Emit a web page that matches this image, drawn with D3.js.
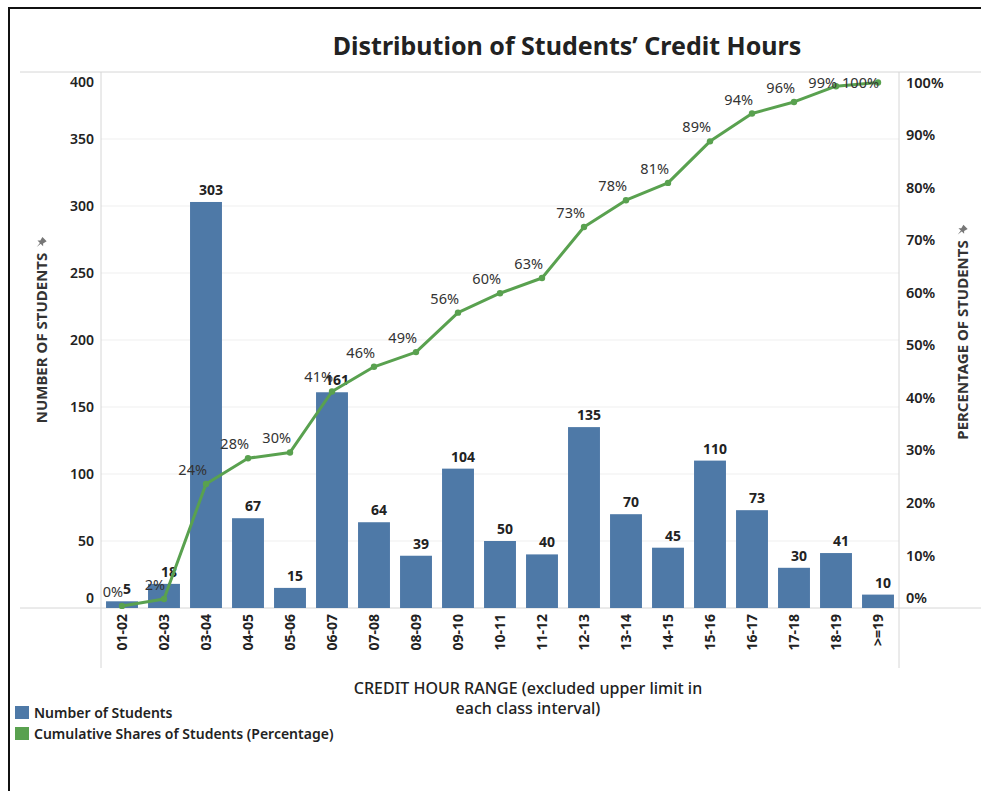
<!DOCTYPE html>
<html>
<head>
<meta charset="utf-8">
<script src="https://cdn.jsdelivr.net/npm/d3@7"></script>
<style>
  body { margin: 0; background: #fff; }
  svg { display: block; font-family: "Noto Sans", "Open Sans", sans-serif; }
</style>
</head>
<body>
<svg width="981" height="791"></svg>
<script>
// Categories and values
const ranges = ["01-02", "02-03", "03-04", "04-05", "05-06", "06-07", "07-08", "08-09", "09-10",
  "10-11", "11-12", "12-13", "13-14", "14-15", "15-16", "16-17", "17-18", "18-19", ">=19"];
const students = [5, 18, 303, 67, 15, 161, 64, 39, 104, 50, 40, 135, 70, 45, 110, 73, 30, 41, 10];
const cumShare = [0.004, 0.017, 0.236, 0.285, 0.296, 0.412, 0.459, 0.487, 0.562, 0.599, 0.628,
  0.725, 0.776, 0.809, 0.888, 0.941, 0.963, 0.993, 1.0];
const countTicks = [0, 50, 100, 150, 200, 250, 300, 350, 400];
const shareTicks = [0, 0.1, 0.2, 0.3, 0.4, 0.5, 0.6, 0.7, 0.8, 0.9, 1.0];

const blue = "#4e79a7";
const green = "#59a14f";

const svg = d3.select("svg");

// frame
svg.append("rect")
  .attr("x", 9).attr("y", 8)
  .attr("width", 990).attr("height", 800)
  .attr("fill", "none").attr("stroke", "#111").attr("stroke-width", 2);

const plotLeft = 101, plotRight = 899, plotTop = 72, base = 608;

const x = d3.scaleBand().domain(ranges).range([plotLeft, plotRight]).paddingInner(0.24).paddingOuter(0.12);
const y = d3.scaleLinear().domain([0, 400]).range([base, plotTop]);
const y2 = d3.scaleLinear().domain([0, 1.02]).range([base, plotTop]);

// title
svg.append("text")
  .attr("x", 567).attr("y", 55)
  .attr("text-anchor", "middle")
  .attr("font-size", "25px").attr("font-weight", 700).attr("fill", "#222")
  .text("Distribution of Students\u2019 Credit Hours");

// gridlines
svg.append("g")
  .selectAll("line")
  .data(countTicks.filter((d) => d > 0 && d < 400))
  .enter()
  .append("line")
  .attr("x1", plotLeft).attr("x2", plotRight)
  .attr("y1", (d) => y(d)).attr("y2", (d) => y(d))
  .attr("stroke", "#efefef");

// frame lines of the plot
svg.append("line").attr("x1", 20).attr("x2", 981).attr("y1", plotTop).attr("y2", plotTop).attr("stroke", "#d6d6d6");
svg.append("line").attr("x1", 20).attr("x2", 981).attr("y1", base).attr("y2", base).attr("stroke", "#d6d6d6");
svg.append("line").attr("x1", plotLeft).attr("x2", plotLeft).attr("y1", plotTop).attr("y2", 668).attr("stroke", "#d6d6d6");
svg.append("line").attr("x1", plotRight).attr("x2", plotRight).attr("y1", plotTop).attr("y2", 668).attr("stroke", "#d6d6d6");

// left axis labels
svg.append("g")
  .selectAll("text")
  .data(countTicks)
  .enter()
  .append("text")
  .attr("x", 94)
  .attr("y", (d) => Math.min(Math.max(y(d), 82), 598))
  .attr("dy", "0.35em")
  .attr("text-anchor", "end")
  .attr("font-size", "14px").attr("font-weight", 600).attr("fill", "#222")
  .text((d) => d);

// right axis labels
svg.append("g")
  .selectAll("text")
  .data(shareTicks)
  .enter()
  .append("text")
  .attr("x", 906)
  .attr("y", (d) => Math.min(Math.max(y2(d), 82), 598))
  .attr("dy", "0.35em")
  .attr("font-size", "14.5px").attr("font-weight", 600).attr("fill", "#222")
  .text((d) => d3.format(".0%")(d));

// bars
svg.append("g")
  .selectAll("rect")
  .data(students)
  .enter()
  .append("rect")
  .attr("x", (d, i) => x(ranges[i]))
  .attr("y", (d) => y(d))
  .attr("width", x.bandwidth())
  .attr("height", (d) => base - y(d))
  .attr("fill", blue);

// bar labels
svg.append("g")
  .selectAll("text")
  .data(students)
  .enter()
  .append("text")
  .attr("x", (d, i) => x(ranges[i]) + x.bandwidth() / 2 + 5)
  .attr("y", (d) => y(d) - 7)
  .attr("text-anchor", "middle")
  .attr("font-size", "14px").attr("font-weight", 700).attr("fill", "#222")
  .text((d) => d);

// cumulative line
const cx = (i) => x(ranges[i]) + x.bandwidth() / 2;
const line = d3.line().x((d, i) => cx(i)).y((d) => y2(d));

svg.append("path")
  .datum(cumShare)
  .attr("d", line)
  .attr("fill", "none")
  .attr("stroke", green)
  .attr("stroke-width", 3)
  .attr("stroke-linejoin", "round");

svg.append("g")
  .selectAll("circle")
  .data(cumShare)
  .enter()
  .append("circle")
  .attr("cx", (d, i) => cx(i))
  .attr("cy", (d) => y2(d))
  .attr("r", 3.2)
  .attr("fill", green);

svg.append("g")
  .selectAll("text")
  .data(cumShare)
  .enter()
  .append("text")
  .attr("x", (d, i) => cx(i) + 1)
  .attr("y", (d) => Math.max(y2(d) - 9, 88))
  .attr("text-anchor", "end")
  .attr("font-size", "14.5px").attr("fill", "#333")
  .text((d) => d3.format(".0%")(d));

// x tick labels
svg.append("g")
  .selectAll("text")
  .data(ranges)
  .enter()
  .append("text")
  .attr("transform", (d) => `translate(${x(d) + x.bandwidth() / 2},614) rotate(-90)`)
  .attr("dy", "0.35em")
  .attr("text-anchor", "end")
  .attr("font-size", "14px").attr("font-weight", 700).attr("fill", "#222")
  .text((d) => d);

// axis titles with the little pin at their top end
function axisTitle(label, tx, ty) {
  const g = svg.append("g").attr("transform", `translate(${tx},${ty}) rotate(-90)`);
  const t = g.append("text")
    .attr("dy", "0.35em")
    .attr("text-anchor", "middle")
    .attr("font-size", "15px").attr("font-weight", 700).attr("fill", "#333")
    .text(label);
  const half = t.node().getComputedTextLength() / 2;
  g.append("path")
    .attr("transform", `translate(${half + 10},-1) rotate(135)`)
    .attr("d", "M-3,-5 L3,-5 L2,-1 L4,1 L-4,1 L-2,-1 Z M-0.6,1 L0.6,1 L0,6 Z")
    .attr("fill", "#777");
}
axisTitle("NUMBER OF STUDENTS", 42, 338);
axisTitle("PERCENTAGE OF STUDENTS", 963, 340);

// x title
svg.append("text")
  .attr("text-anchor", "middle")
  .attr("font-size", "16px").attr("font-weight", 500).attr("fill", "#222")
  .selectAll("tspan")
  .data(["CREDIT HOUR RANGE (excluded upper limit in", "each class interval)"])
  .enter()
  .append("tspan")
  .attr("x", 528)
  .attr("y", (d, i) => 694 + i * 20)
  .text((d) => d);

// legend
const legendItems = [
  { label: "Number of Students", color: blue },
  { label: "Cumulative Shares of Students (Percentage)", color: green },
];
const legend = svg.append("g")
  .selectAll("g")
  .data(legendItems)
  .enter()
  .append("g")
  .attr("transform", (d, i) => `translate(15,${706 + i * 21})`);
legend.append("rect").attr("width", 14).attr("height", 13).attr("fill", (d) => d.color);
legend.append("text")
  .attr("x", 19).attr("y", 11.5)
  .attr("font-size", "14px").attr("font-weight", 600).attr("fill", "#222")
  .text((d) => d.label);
</script>
</body>
</html>
